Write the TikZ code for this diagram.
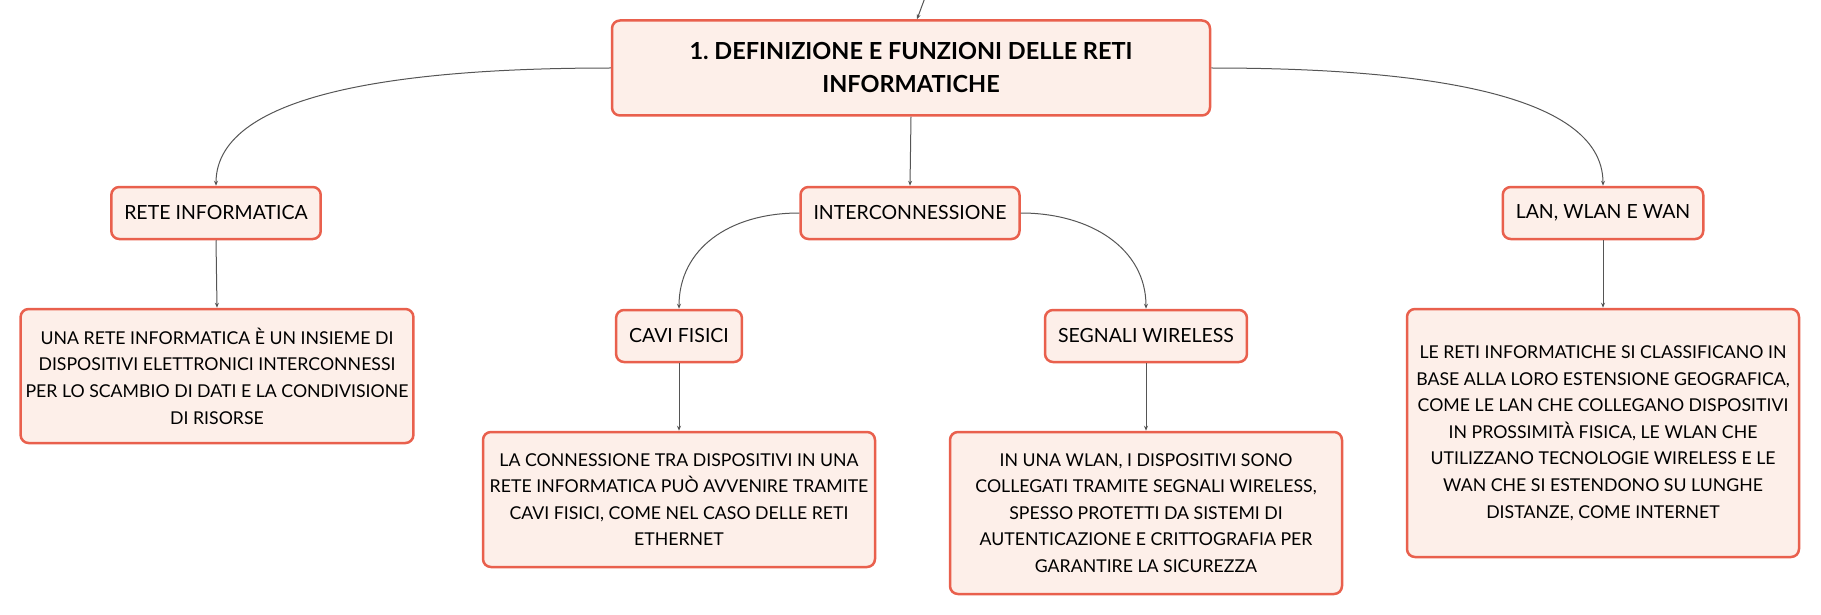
\documentclass[tikz,border=0pt]{standalone}
\usepackage{fontspec}
\setmainfont{Lato}
\usepackage{tikz}
\usetikzlibrary{arrows.meta, positioning}
\definecolor{topiccolor}{RGB}{253, 239, 233}
\definecolor{bordercolor}{RGB}{233, 96, 77}
\definecolor{linkcolor}{RGB}{85, 85, 85}

\begin{document}
\begin{tikzpicture}[
    x=1pt, y=1pt,
    topic/.style={draw=bordercolor, fill=topiccolor, line width=2.5pt, rounded corners=8pt, minimum height=52pt, inner xsep=13pt, font=\fontsize{19.5}{22}\selectfont, align=center},
    central/.style={topic, minimum width=598pt, minimum height=95pt, font=\fontsize{23.5}{33}\selectfont\bfseries},
    detail/.style={topic, minimum width=392pt, inner xsep=5pt, font=\fontsize{17.7}{26.6}\selectfont},
    link/.style={draw=linkcolor, line width=1pt, -{Stealth[length=5pt, width=4pt]}}
]
    \useasboundingbox (0,0) rectangle (1821,-615);

    % Central topic
    \node[central] (defin) at (911,-68) {1.\ DEFINIZIONE E FUNZIONI DELLE RETI\\INFORMATICHE};
    \coordinate (parent) at (926,5);

    % Subtopics
    \node[topic] (rete) at (216,-213) {RETE INFORMATICA};
    \node[topic] (interconn) at (910,-213) {INTERCONNESSIONE};
    \node[topic] (lanwan) at (1603,-213) {LAN, WLAN E WAN};
    \node[topic] (cavi) at (679,-336) {CAVI FISICI};
    \node[topic] (wireless) at (1146,-336) {SEGNALI WIRELESS};

    % Details
    \node[detail, minimum height=134pt] (retedesc) at (217,-376) {
        UNA RETE INFORMATICA È UN INSIEME DI\\
        DISPOSITIVI ELETTRONICI INTERCONNESSI\\
        PER LO SCAMBIO DI DATI E LA CONDIVISIONE\\
        DI RISORSE
    };
    \node[detail, minimum height=135pt] (cavidesc) at (679,-499.5) {
        LA CONNESSIONE TRA DISPOSITIVI IN UNA\\
        RETE INFORMATICA PUÒ AVVENIRE TRAMITE\\
        CAVI FISICI, COME NEL CASO DELLE RETI\\
        ETHERNET
    };
    \node[detail, minimum height=162pt] (wirelessdesc) at (1146,-513) {
        IN UNA WLAN, I DISPOSITIVI SONO\\
        COLLEGATI TRAMITE SEGNALI WIRELESS,\\
        SPESSO PROTETTI DA SISTEMI DI\\
        AUTENTICAZIONE E CRITTOGRAFIA PER\\
        GARANTIRE LA SICUREZZA
    };
    \node[detail, minimum height=248pt] (landesc) at (1603,-433) {
        LE RETI INFORMATICHE SI CLASSIFICANO IN\\
        BASE ALLA LORO ESTENSIONE GEOGRAFICA,\\
        COME LE LAN CHE COLLEGANO DISPOSITIVI\\
        IN PROSSIMITÀ FISICA, LE WLAN CHE\\
        UTILIZZANO TECNOLOGIE WIRELESS E LE\\
        WAN CHE SI ESTENDONO SU LUNGHE\\
        DISTANZE, COME INTERNET
    };

    % Connections
    \draw[link] (parent) -- ([xshift=6pt]defin.north);
    \draw[link] (defin.west) .. controls +(-200,0) and +(0,95) .. (rete.north);
    \draw[link] (defin.south) -- (interconn.north);
    \draw[link] (defin.east) .. controls +(200,0) and +(0,95) .. (lanwan.north);
    \draw[link] (interconn.west) .. controls +(-70,0) and +(0,60) .. (cavi.north);
    \draw[link] (interconn.east) .. controls +(70,0) and +(0,60) .. (wireless.north);
    \draw[link] (rete.south) -- (retedesc.north);
    \draw[link] (cavi.south) -- (cavidesc.north);
    \draw[link] (wireless.south) -- (wirelessdesc.north);
    \draw[link] (lanwan.south) -- (landesc.north);

\end{tikzpicture}
\end{document}
